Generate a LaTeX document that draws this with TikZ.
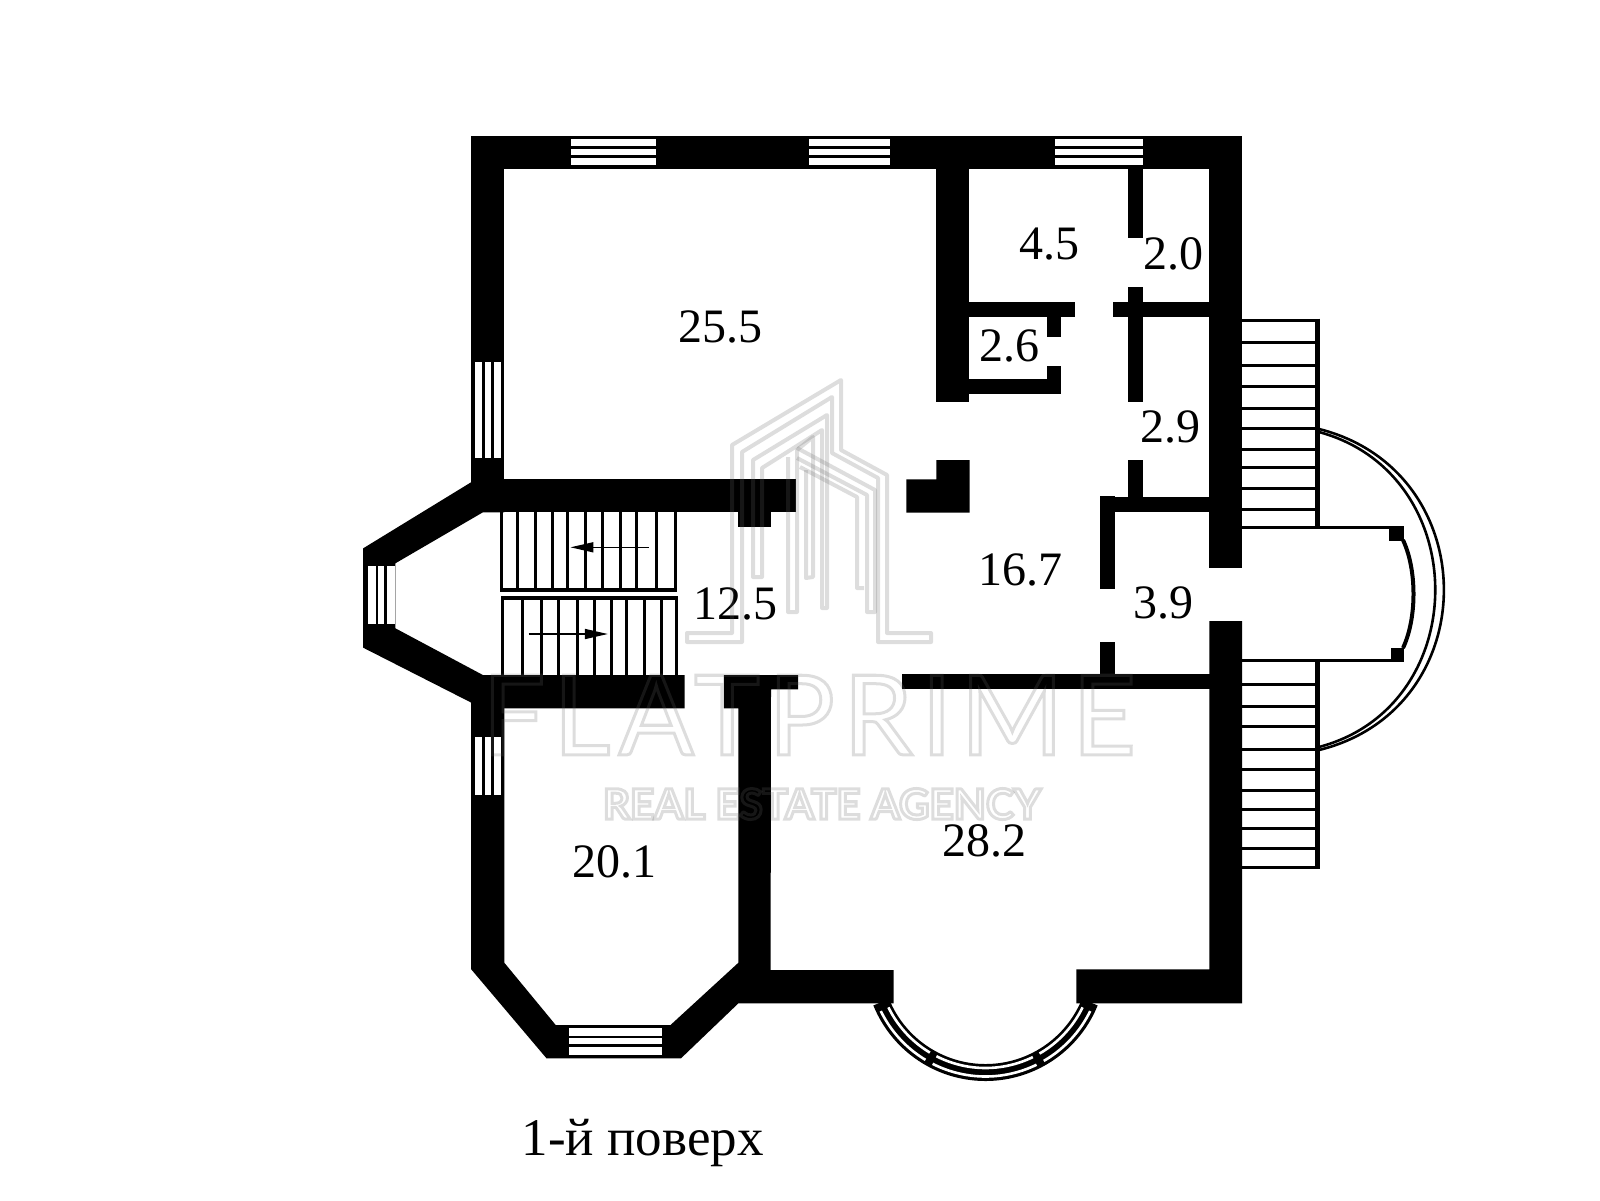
\documentclass[tikz,border=0pt]{standalone}
\usepackage{fontspec}
\setmainfont{Liberation Serif}
\newfontfamily\markfont{Lato}
\usetikzlibrary{arrows.meta}
\newcommand{\hollow}[2]{\special{pdf:code q 1 Tr #1 w}#2\special{pdf:code Q}}
\tikzset{
  wall/.style={fill=black},
  tread/.style={line width=3pt},
  frame/.style={line width=3.4pt},
  pane/.style={fill=white},
  bar/.style={line width=2.6pt},
  area/.style={inner sep=0pt,font=\fontsize{48}{48}\selectfont},
  logo/.style={draw=black!60,opacity=0.22,line width=4pt,line join=round},
  logotext/.style={inner sep=0pt,text=black!60,opacity=0.22}
}
\begin{document}
\begin{tikzpicture}[x=1pt,y=-1pt]
\useasboundingbox (0,0) rectangle (1600,1200);
% bay ring at the bottom
\draw [line width=17pt,smooth] plot[domain=22:158,samples=60] ({985.5+112.5*cos(\x)},{960+112.5*sin(\x)});
\foreach \a/\b in {26/60,64/117,121/154} {
  \foreach \r in {108,116.5}
    \draw [white,line width=2.6pt,smooth] plot[domain=\a:\b,samples=30] ({985.5+\r*cos(\x)},{960+\r*sin(\x)});
}
% walls
\fill [wall] (470.7,135.7) rectangle (1242,169.3);
\fill [wall] (470.7,135.7) rectangle (504.3,512.3);
\fill [wall] (472,479.3) rectangle (796.4,512.3);
\fill [wall] (738,512) rectangle (771.4,527);
\fill [wall] (472,481.7) -- (363.2,548.3) -- (363.2,647.7) -- (471.4,702.7) -- (504.3,708.3) -- (684.6,708.3) -- (684.6,675) -- (482.9,675) -- (395.4,628.3) -- (395.4,563.3) -- (482.9,512.3) -- (504.3,512.3) -- cycle;
\fill [wall] (471.2,700) -- (471.2,969.3) -- (546.5,1058.3) -- (681,1058.3) -- (738.4,1003.3) -- (893.6,1003.3) -- (893.6,970) -- (770.6,970) -- (771,689.3) -- (798.2,689.3) -- (798.2,675) -- (723.9,675) -- (723.9,708.3) -- (738.4,708.3) -- (738.4,962.7) -- (670.5,1025) -- (555.7,1025) -- (504.3,962.7) -- (504.3,700) -- cycle;
\fill [wall] (1076.4,969.3) -- (1209.3,969.3) -- (1209.3,621) -- (1242,621) -- (1242,1003.3) -- (1076.4,1003.3) -- cycle;
\fill [wall] (1209.3,135.7) rectangle (1242,568.3);
\fill [wall] (936.4,169) rectangle (969.3,402.3);
\fill [wall] (969,302) rectangle (1075.4,317);
\fill [wall] (1047,302) rectangle (1061.4,337.3);
\fill [wall] (1047,365.7) rectangle (1061.4,394);
\fill [wall] (969,379.3) rectangle (1061.4,394);
\fill [wall] (1112.5,302) rectangle (1210,317);
\fill [wall] (1127.9,169) rectangle (1142.9,237.7);
\fill [wall] (1127.9,286.7) rectangle (1142.9,402.3);
\fill [wall] (1127.9,460) rectangle (1142.9,497);
\fill [wall] (1100,496.7) rectangle (1210,511.7);
\fill [wall] (1100,495.7) rectangle (1115.4,589.3);
\fill [wall] (1100,642.3) rectangle (1115.4,675);
\fill [wall] (901.8,674.3) rectangle (1210,689);
\fill [wall] (906.4,479.3) -- (936.4,479.3) -- (936.4,460) -- (969.6,460) -- (969.6,512.7) -- (906.4,512.7) -- cycle;
% windows
\foreach \xa/\xb in {571.4/656,808.6/890,1055.4/1143.2} {
  \fill [pane] (\xa,139) rectangle (\xb,165);
  \draw [bar] (\xa,147.6) -- (\xb,147.6) (\xa,156.2) -- (\xb,156.2);
}
\fill [pane] (568.6,1028.3) rectangle (661.8,1055);
\draw [bar] (568.6,1036.9) -- (661.8,1036.9) (568.6,1045.7) -- (661.8,1045.7);
\foreach \ya/\yb in {362.3/458.3,737.3/795} {
  \fill [pane] (475,\ya) rectangle (501,\yb);
  \draw [bar] (483.6,\ya) -- (483.6,\yb) (492.6,\ya) -- (492.6,\yb);
}
\fill [pane] (367.9,566) rectangle (395.4,624);
\draw [bar] (376.8,566) -- (376.8,624) (385.7,566) -- (385.7,624);
% stairs on the left
\foreach \x in {501.4,517.9,535.7,552.5,567.9,585.7,602.5,620.4,636.4,656.1,675.7}
  \draw [tread] (\x,512) -- (\x,590);
\draw [frame] (500,590) -- (677.2,590);
\foreach \x in {502.5,522.1,541.8,558.6,577.5,594.3,611.4,626.4,644.3,661.4,676.4}
  \draw [tread] (\x,598) -- (\x,675);
\draw [frame] (501,598) -- (678,598);
\draw [line width=1.5pt,-{Triangle[length=23pt,width=10pt]}] (648.9,547.3) -- (570.4,547.3);
\draw [line width=1.5pt,-{Triangle[length=23pt,width=10pt]}] (528.6,634) -- (607.9,634);
% stairs on the right
\foreach \y in {342.7,365,386.7,408.3,428.3,449,467.3,488.3,509.3,684,706.7,726.7,749.3,769.3,790.7,809,828.3,848.3}
  \draw [tread] (1242,\y) -- (1316,\y);
\draw [tread] (1242,320) -- (1317,320);
\draw [tread] (1242,867) -- (1317,867);
\draw [line width=5pt] (1317,318.5) -- (1317,527.5);
\draw [line width=5pt] (1317,660) -- (1317,869);
% landing
\draw [tread] (1242,527.7) -- (1404.3,527.7);
\draw [tread] (1242,660) -- (1404.3,660);
\fill [wall] (1389.3,527) rectangle (1404.3,540.7);
\fill [wall] (1390.5,647.7) rectangle (1404.3,661);
\draw [line width=4pt] (1403,540) .. controls (1417,570) and (1417,618) .. (1403,648);
\draw [line width=2.6pt] (1319,429) .. controls (1485.5,471) and (1485.5,709) .. (1319,750);
\draw [line width=2.6pt] (1319,432) .. controls (1474,474) and (1474,706) .. (1319,747);
% room areas
\node (rhall) [area] at (720.4,326.7) {25.5};
\node (rstore) [area] at (1049.6,244) {4.5};
\node (rbath) [area] at (1173.8,254.3) {2.0};
\node (rwc) [area] at (1009.5,346) {2.6};
\node (rpass) [area] at (1170,426.7) {2.9};
\node (rmain) [area] at (1020,569.7) {16.7};
\node (rporch) [area] at (1163.4,602.7) {3.9};
\node (rlive) [area] at (984.8,841.3) {28.2};
\node (rstair) [area] at (735,603.7) {12.5};
\node (rbed) [area] at (614.6,862) {20.1};
\node (rtitle) [anchor=base,font=\fontsize{53}{53}\selectfont] at (642.7,1155) {1-й поверх};
% agency mark
\draw [logo] (687,642) -- (687,633) -- (732,633) -- (732,445) -- (841,380) -- (841,450) -- (887,475) -- (887,633) -- (931,633) -- (931,642) -- (878,642) -- (878,478) -- (832,453) -- (832,397) -- (742,452) -- (742,642) -- cycle;
\draw [logo] (753,577) -- (753,460) -- (827,415) -- (827,608) -- (822,608) -- (822,430) -- (762,468) -- (762,577) -- cycle;
\draw [logo] (788,457) -- (788,612) -- (797,612) -- (797,450) -- (813,437) -- (813,577) -- (806,578) -- (806,470);
\draw [logo] (797,448) -- (875,490) -- (875,612) -- (867,612) -- (867,495) -- (797,458);
\draw [logo] (800,467) -- (857,497) -- (857,588) -- (864,588);
\node (wmark) [logotext,font=\markfont\fontsize{111}{111}\selectfont] at (809,715) {\addfontfeature{LetterSpace=7.5}\hollow{3}{FLATPRIME}};
\node (wsub) [logotext,font=\markfont\bfseries\fontsize{42}{42}\selectfont] at (822,804) {\hollow{3}{REAL ESTATE AGENCY}};
\end{tikzpicture}
\end{document}
